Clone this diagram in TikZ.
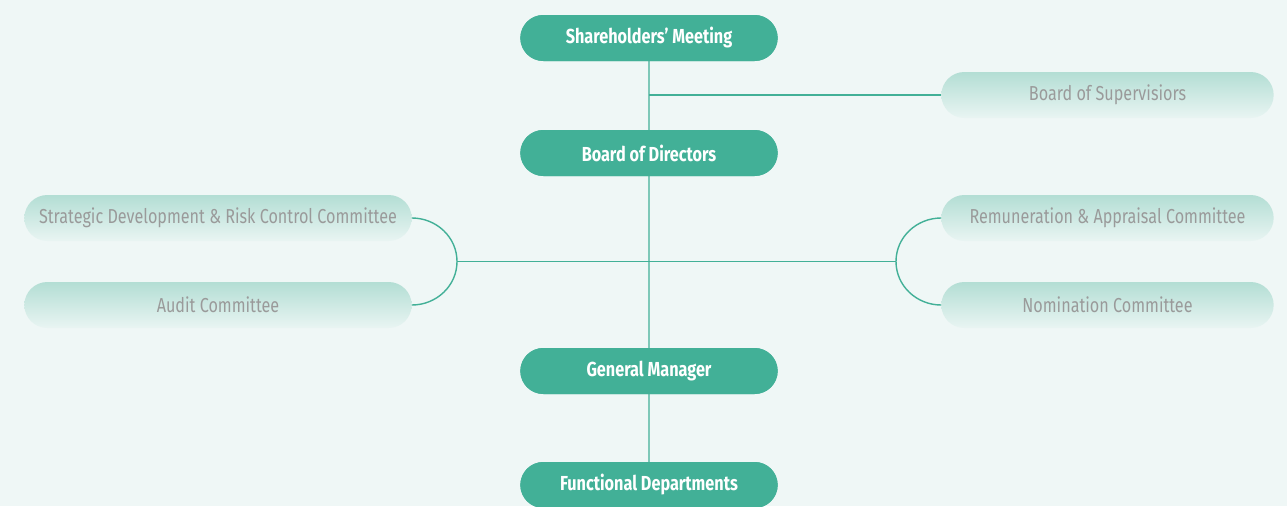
\documentclass[tikz,border=0pt]{standalone}
\usepackage{fontspec}
\setmainfont{Fira Sans}[FakeStretch=0.8]
\usepackage{xcolor}
\usetikzlibrary{positioning, shapes.misc}

\definecolor{bgcol}{HTML}{EFF7F6}
\definecolor{teal}{HTML}{42B097}
\definecolor{paleteal}{HTML}{B3DED4}
\definecolor{greytext}{HTML}{9A9A9A}

\begin{document}
\begin{tikzpicture}[x=1pt,y=-1pt,node distance=115pt,on grid]
    \tikzstyle{main}=[shape=rounded rectangle,fill=teal,text=white,minimum width=264pt,minimum height=46pt,font=\fontsize{20.3}{22}\selectfont\bfseries]
    \tikzstyle{side}=[shape=rounded rectangle,top color=paleteal,bottom color=bgcol!90!paleteal,text=greytext,minimum height=46pt,font=\fontsize{20.2}{22}\selectfont]
    \tikzstyle{link}=[draw=teal,line width=1.4pt]

    \fill[bgcol] (0,0) rectangle (1287,506);
    \useasboundingbox (0,0) rectangle (1287,506);

    \node[main] (SM) at (649,38) {Shareholders’ Meeting};
    \node[main, below=of SM] (BD) {Board of Directors};
    \node[main, below=218pt of BD] (GM) {General Manager};
    \node[main, below=114pt of GM] (FD) {Functional Departments};

    \node[side, minimum width=339pt] (BS) at (1107.5,95) {Board of Supervisiors};
    \node[side, minimum width=394pt] (SD) at (218,218) {Strategic Development \& Risk Control Committee};
    \node[side, minimum width=394pt, below=87pt of SD] (AC) {Audit Committee};
    \node[side, minimum width=339pt] (RA) at (1107.5,218) {Remuneration \& Appraisal Committee};
    \node[side, minimum width=339pt, below=87pt of RA] (NC) {Nomination Committee};

    \coordinate (J0) at (649,95);
    \coordinate (JL) at (457,261.5);
    \coordinate (JR) at (896,261.5);

    \path[link]
    (SM) edge (FD)
    (J0) edge (BS)
    (JL) edge (JR);

    \draw[link] (SD.east) to[out=0,in=90] (JL) to[out=-90,in=0] (AC.east);
    \draw[link] (RA.west) to[out=180,in=90] (JR) to[out=-90,in=180] (NC.west);

    % main boxes on top of the trunk line
    \node[main] at (SM) {Shareholders’ Meeting};
    \node[main] at (BD) {Board of Directors};
    \node[main] at (GM) {General Manager};
    \node[main] at (FD) {Functional Departments};
\end{tikzpicture}
\end{document}
